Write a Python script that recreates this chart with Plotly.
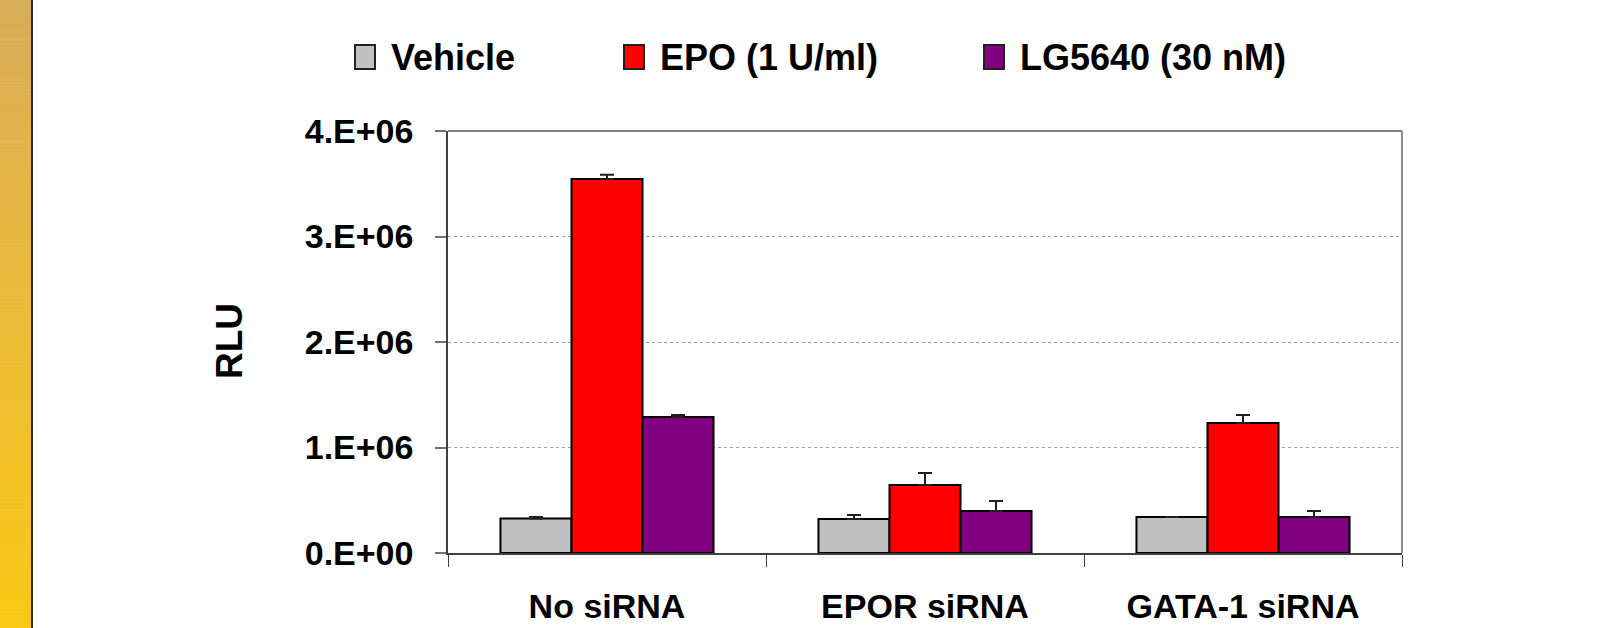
import plotly.graph_objects as go

# ---- data -------------------------------------------------------------
categories = ["No siRNA", "EPOR siRNA", "GATA-1 siRNA"]

vehicle = [0.326e6, 0.322e6, 0.341e6]
vehicle_err = [0.015e6, 0.038e6, 0.0]

epo = [3.545e6, 0.645e6, 1.232e6]
epo_err = [0.040e6, 0.113e6, 0.076e6]

lg5640 = [1.289e6, 0.398e6, 0.341e6]
lg5640_err = [0.020e6, 0.095e6, 0.057e6]

series_names = ["Vehicle", "EPO (1 U/ml)", "LG5640 (30 nM)"]
series_colors = ["#C0C0C0", "#FF0000", "#800080"]

y_tickvals = [0, 1e6, 2e6, 3e6, 4e6]
y_ticktext = ["0.E+00", "1.E+06", "2.E+06", "3.E+06", "4.E+06"]

# ---- page geometry (pixels) --------------------------------------------
W, H = 1610, 628
PL, PR, PT, PB = 448, 1402, 131, 553   # plot-area edges
FONT = "Liberation Sans, Arial, sans-serif"


def px_x(x):
    return (x - PL) / (PR - PL)


def px_y(y):
    return (PB - y) / (PB - PT)


fig = go.Figure()

for name, vals, errs, color in zip(
    series_names,
    [vehicle, epo, lg5640],
    [vehicle_err, epo_err, lg5640_err],
    series_colors,
):
    fig.add_trace(
        go.Bar(
            x=categories,
            y=vals,
            name=name,
            marker=dict(color=color, line=dict(color="black", width=2)),
            error_y=dict(
                type="data",
                symmetric=False,
                array=errs,
                arrayminus=[0] * len(errs),
                color="#202020",
                thickness=2,
                width=7,
            ),
            showlegend=False,
        )
    )

shapes = []

# gold side stripe, built from thin horizontal bands
stops = [(0.0, (0xD8, 0xAC, 0x58)), (0.45, (0xEA, 0xB9, 0x3C)), (1.0, (0xFA, 0xC8, 0x15))]


def stripe_color(t):
    for (t0, c0), (t1, c1) in zip(stops[:-1], stops[1:]):
        if t <= t1:
            f = (t - t0) / (t1 - t0)
            return "rgb(%d,%d,%d)" % tuple(round(a + (b - a) * f) for a, b in zip(c0, c1))
    return "rgb(%d,%d,%d)" % stops[-1][1]


n_bands = 80
for i in range(n_bands):
    y0 = H * i / n_bands
    y1 = H * (i + 1) / n_bands + 0.5
    shapes.append(dict(
        type="rect", xref="paper", yref="paper", layer="below",
        x0=px_x(0), x1=px_x(31),
        y0=px_y(y1), y1=px_y(y0),
        fillcolor=stripe_color((i + 0.5) / n_bands), line=dict(width=0),
    ))
shapes.append(dict(
    type="line", xref="paper", yref="paper",
    x0=px_x(32), x1=px_x(32), y0=px_y(H), y1=px_y(0),
    line=dict(color="#2A2A2A", width=2),
))

# plot frame: top and right edges
shapes.append(dict(type="line", xref="paper", yref="paper", x0=0, x1=1, y0=1, y1=1,
                   line=dict(color="#808080", width=2)))
shapes.append(dict(type="line", xref="paper", yref="paper", x0=1, x1=1, y0=0, y1=1,
                   line=dict(color="#909090", width=2)))

# legend row: swatches + labels
legend_items = [(355, 389), (624, 658), (984, 1018)]
annotations = []
for (sx, tx), name, color in zip(legend_items, series_names, series_colors):
    shapes.append(dict(
        type="rect", xref="paper", yref="paper",
        x0=px_x(sx), x1=px_x(sx + 20), y0=px_y(69), y1=px_y(45),
        fillcolor=color, line=dict(color="#202020", width=2),
    ))
    annotations.append(dict(
        x=px_x(tx), y=px_y(57), xref="paper", yref="paper",
        text="<b>%s</b>" % name, showarrow=False,
        xanchor="left", yanchor="middle",
        font=dict(family=FONT, size=36, color="black"),
    ))

# y-axis title
annotations.append(dict(
    x=px_x(229), y=px_y(341), xref="paper", yref="paper",
    text="<b>RLU</b>", textangle=-90, showarrow=False,
    xanchor="center", yanchor="middle",
    font=dict(family=FONT, size=37, color="black"),
))

fig.update_layout(
    width=W, height=H,
    margin=dict(l=PL, r=W - PR, t=PT, b=H - PB, pad=0, autoexpand=False),
    paper_bgcolor="white", plot_bgcolor="white",
    barmode="group", bargap=0.33, bargroupgap=0,
    shapes=shapes, annotations=annotations,
    showlegend=False,
    font=dict(family=FONT, color="black"),
)

fig.update_xaxes(
    type="category", automargin=False,
    showline=True, linecolor="#404040", linewidth=2,
    ticks="outside", tickson="boundaries", ticklen=12, tickcolor="#404040", tickwidth=1,
    tickfont=dict(family=FONT, size=34, color="black", weight="bold"),
    ticklabelstandoff=22,
    showgrid=False, zeroline=False,
)

fig.update_yaxes(
    range=[0, 4e6], automargin=False,
    tickvals=y_tickvals, ticktext=y_ticktext,
    showline=True, linecolor="#404040", linewidth=1.5,
    ticks="outside", ticklen=11, tickcolor="#707070", tickwidth=1.5,
    tickfont=dict(family=FONT, size=34, color="black", weight="bold"),
    ticklabelstandoff=15,
    showgrid=True, gridcolor="#A0A0A0", gridwidth=1, griddash="dot",
    zeroline=False,
)

fig.write_html("out.html")
